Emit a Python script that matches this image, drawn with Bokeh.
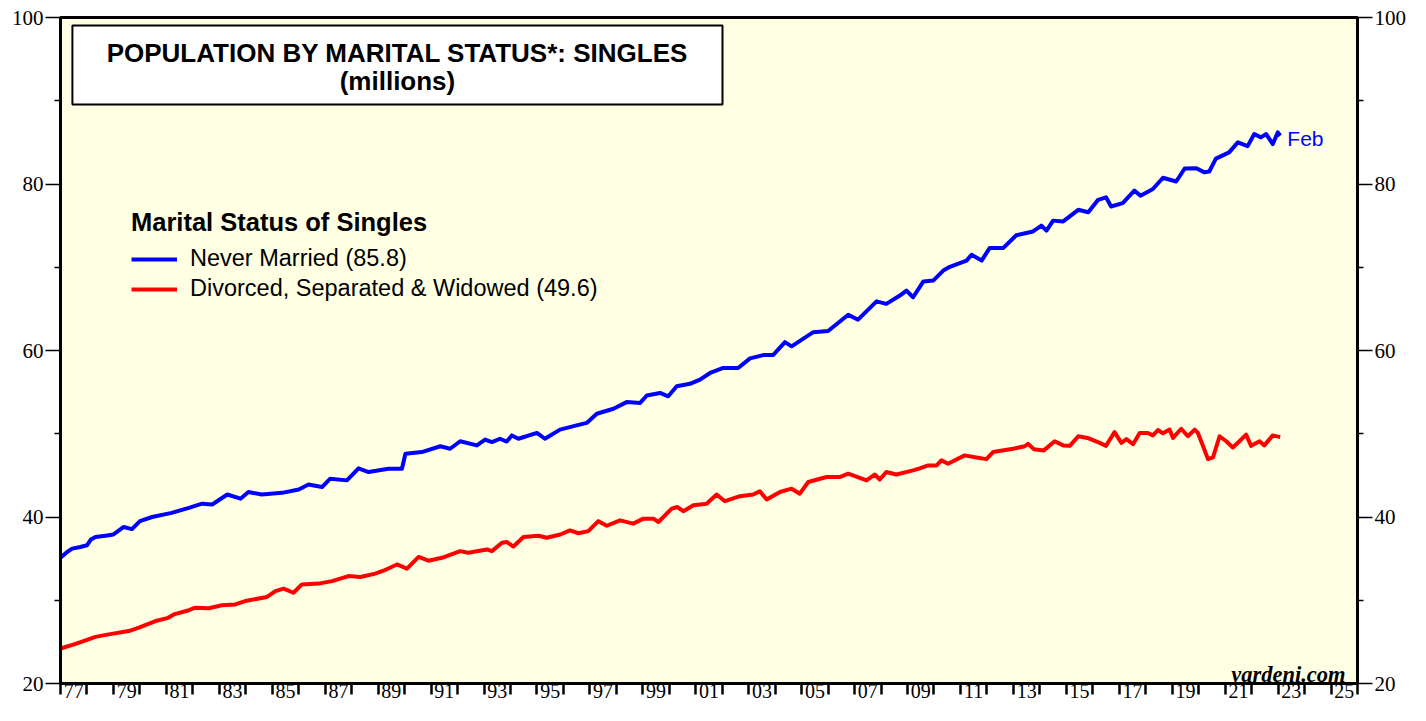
from bokeh.plotting import figure
from bokeh.models import (FixedTicker, LinearAxis, Label, BoxAnnotation, Legend, LegendItem, Range1d)
from bokeh.embed import file_html
from bokeh.resources import INLINE

# ---------------- data ----------------
never_married_t = [1977.00, 1977.25, 1977.44, 1977.75, 1978.00, 1978.15, 1978.32, 1978.70, 1979.00, 1979.39,
                   1979.70, 1980.00, 1980.46, 1981.20, 1981.85, 1982.35, 1982.73, 1983.30, 1983.80, 1984.10,
                   1984.60, 1985.37, 1986.00, 1986.37, 1986.88, 1987.19, 1987.82, 1988.26, 1988.64, 1989.39,
                   1989.90, 1990.03, 1990.65, 1991.35, 1991.72, 1992.10, 1992.73, 1993.04, 1993.30, 1993.60,
                   1993.86, 1994.05, 1994.30, 1995.00, 1995.30, 1995.87, 1996.50, 1996.88, 1997.26, 1997.89,
                   1998.39, 1998.90, 1999.15, 1999.65, 1999.96, 2000.28, 2000.78, 2001.16, 2001.54, 2002.04,
                   2002.60, 2003.05, 2003.55, 2003.92, 2004.37, 2004.62, 2005.44, 2006.00, 2006.76, 2007.13,
                   2007.83, 2008.20, 2008.71, 2008.96, 2009.21, 2009.60, 2009.97, 2010.35, 2010.60, 2011.23,
                   2011.42, 2011.80, 2012.10, 2012.61, 2013.11, 2013.74, 2014.06, 2014.25, 2014.50, 2014.88,
                   2015.13, 2015.45, 2015.83, 2016.20, 2016.50, 2016.69, 2017.13, 2017.57, 2017.80, 2018.27,
                   2018.65, 2019.15, 2019.47, 2019.91, 2020.22, 2020.40, 2020.65, 2021.15, 2021.48, 2021.85,
                   2022.10, 2022.35, 2022.55, 2022.80, 2022.99, 2023.08]
never_married_v = [35.1, 35.8, 36.2, 36.4, 36.6, 37.3, 37.6, 37.76, 37.9, 38.8,
                   38.55, 39.5, 40.0, 40.5, 41.1, 41.6, 41.5, 42.7, 42.2, 43.0,
                   42.7, 42.9, 43.3, 43.9, 43.6, 44.6, 44.4, 45.85, 45.4, 45.8,
                   45.8, 47.6, 47.8, 48.5, 48.2, 49.1, 48.6, 49.3, 49.0, 49.4,
                   49.06, 49.8, 49.4, 50.1, 49.4, 50.5, 51.0, 51.3, 52.4, 53.0,
                   53.8, 53.7, 54.6, 54.9, 54.5, 55.7, 56.0, 56.5, 57.3, 57.9,
                   57.9, 59.05, 59.45, 59.45, 61.0, 60.5, 62.2, 62.35, 64.3, 63.7,
                   65.9, 65.6, 66.6, 67.2, 66.4, 68.3, 68.4, 69.6, 70.05, 70.8,
                   71.5, 70.8, 72.3, 72.3, 73.85, 74.3, 75.0, 74.4, 75.6, 75.5,
                   76.1, 76.9, 76.6, 78.1, 78.4, 77.3, 77.7, 79.2, 78.6, 79.4,
                   80.75, 80.3, 81.86, 81.9, 81.4, 81.5, 83.05, 83.8, 85.0, 84.55,
                   86.0, 85.6, 86.0, 84.8, 86.2, 85.8]

divorced_t = [1977.00, 1977.57, 1978.32, 1978.82, 1979.58, 1979.96, 1980.59, 1981.03, 1981.28, 1981.85,
              1982.10, 1982.60, 1983.10, 1983.60, 1983.98, 1984.80, 1985.12, 1985.43, 1985.80, 1986.12,
              1986.75, 1987.26, 1987.88, 1988.33, 1988.89, 1989.20, 1989.71, 1990.09, 1990.53, 1990.90,
              1991.41, 1992.10, 1992.41, 1993.11, 1993.30, 1993.68, 1993.86, 1994.11, 1994.49, 1995.06,
              1995.37, 1995.88, 1996.25, 1996.57, 1996.94, 1997.32, 1997.64, 1998.14, 1998.64, 1999.02,
              1999.40, 1999.59, 2000.09, 2000.30, 2000.53, 2000.91, 2001.41, 2001.79, 2002.10, 2002.67,
              2003.17, 2003.42, 2003.68, 2004.18, 2004.62, 2004.93, 2005.25, 2005.94, 2006.44, 2006.76,
              2007.45, 2007.76, 2007.95, 2008.20, 2008.58, 2009.21, 2009.46, 2009.78, 2010.10, 2010.28,
              2010.53, 2011.16, 2011.60, 2011.98, 2012.23, 2012.99, 2013.43, 2013.55, 2013.77, 2014.15,
              2014.56, 2014.88, 2015.13, 2015.45, 2015.80, 2016.26, 2016.50, 2016.82, 2017.08, 2017.27,
              2017.52, 2017.77, 2018.08, 2018.27, 2018.46, 2018.65, 2018.90, 2019.03, 2019.34, 2019.59,
              2019.85, 2019.97, 2020.16, 2020.35, 2020.54, 2020.79, 2021.04, 2021.29, 2021.54, 2021.79,
              2021.98, 2022.30, 2022.48, 2022.80, 2023.08]
divorced_v = [24.2, 24.75, 25.6, 25.9, 26.3, 26.7, 27.5, 27.85, 28.3, 28.8,
              29.1, 29.04, 29.4, 29.5, 29.9, 30.4, 31.1, 31.4, 30.9, 31.9,
              32.0, 32.3, 32.9, 32.8, 33.2, 33.55, 34.3, 33.8, 35.2, 34.75,
              35.1, 35.9, 35.7, 36.1, 35.9, 36.9, 37.0, 36.45, 37.6, 37.75,
              37.5, 37.9, 38.4, 38.05, 38.3, 39.5, 38.95, 39.6, 39.2, 39.8,
              39.8, 39.4, 41.0, 41.2, 40.7, 41.4, 41.6, 42.7, 41.9, 42.5,
              42.7, 43.1, 42.1, 43.0, 43.4, 42.8, 44.2, 44.8, 44.8, 45.2,
              44.4, 45.1, 44.5, 45.4, 45.1, 45.6, 45.85, 46.2, 46.2, 46.8,
              46.4, 47.4, 47.15, 46.95, 47.8, 48.2, 48.5, 48.8, 48.15, 48.0,
              49.1, 48.6, 48.55, 49.7, 49.5, 48.9, 48.55, 50.2, 48.9, 49.35,
              48.75, 50.1, 50.1, 49.8, 50.45, 50.05, 50.5, 49.5, 50.6, 49.7,
              50.5, 50.1, 48.55, 46.95, 47.15, 49.7, 49.1, 48.35, 49.1, 49.9,
              48.55, 49.1, 48.6, 49.8, 49.6]

series_labels = ["Never Married (85.8)", "Divorced, Separated & Widowed (49.6)"]
legend_title = "Marital Status of Singles"
title_lines = ["POPULATION BY MARITAL STATUS*: SINGLES", "(millions)"]
last_month_label = "Feb"
source_label = "yardeni.com"

y_major_ticks = [20, 40, 60, 80, 100]
y_minor_ticks = [30, 50, 70, 90]
x_year_ticks = list(range(1977, 2027))
x_label_positions = [1977.5, 1979.5, 1981.5, 1983.5, 1985.5, 1987.5, 1989.5, 1991.5, 1993.5, 1995.5,
                     1997.5, 1999.5, 2001.5, 2003.5, 2005.5, 2007.5, 2009.5, 2011.5, 2013.5, 2015.5,
                     2017.5, 2019.5, 2021.5, 2023.5, 2025.5]
x_tick_labels = ["77", "79", "81", "83", "85", "87", "89", "91", "93", "95",
                 "97", "99", "01", "03", "05", "07", "09", "11", "13", "15",
                 "17", "19", "21", "23", "25"]

# ---------------- figure ----------------
SANS = "Liberation Sans"
SERIF = "Liberation Serif"

p = figure(width=1410, height=705, output_backend="svg", toolbar_location=None,
           x_range=Range1d(1977, 2026), y_range=Range1d(20, 100),
           min_border_left=60, min_border_right=53, min_border_top=17, min_border_bottom=22,
           background_fill_color="#FFFFE3", border_fill_color="white",
           outline_line_color="black", outline_line_width=3)
p.xaxis.visible = False
p.yaxis.visible = False
p.grid.visible = False

r1 = p.line(never_married_t, never_married_v, line_color="#0000FF", line_width=4, line_join="round")
r2 = p.line(divorced_t, divorced_v, line_color="#FF0000", line_width=4, line_join="round")

def y_axis():
    ax = LinearAxis(ticker=FixedTicker(ticks=y_major_ticks, minor_ticks=y_minor_ticks))
    ax.axis_line_width = 3
    ax.axis_line_color = "black"
    ax.major_tick_out = 15
    ax.major_tick_in = 0
    ax.minor_tick_out = 6
    ax.minor_tick_in = 0
    ax.major_tick_line_width = 1.7
    ax.minor_tick_line_width = 1.7
    ax.major_label_text_font = SERIF
    ax.major_label_text_font_size = "21px"
    ax.major_label_text_color = "black"
    ax.major_label_standoff = 2
    return ax

p.add_layout(y_axis(), "left")
p.add_layout(y_axis(), "right")

xa = LinearAxis(ticker=FixedTicker(ticks=x_label_positions, minor_ticks=x_year_ticks))
xa.axis_line_width = 3
xa.major_tick_out = 0
xa.major_tick_in = 0
xa.minor_tick_out = 11
xa.minor_tick_in = 0
xa.minor_tick_line_width = 2.5
xa.minor_tick_line_color = "black"
xa.major_label_overrides = {pos: lab for pos, lab in zip(x_label_positions, x_tick_labels)}
xa.major_label_text_font = SERIF
xa.major_label_text_font_size = "20px"
xa.major_label_text_color = "black"
xa.major_label_standoff = -11
p.add_layout(xa, "below")

# title box
p.add_layout(BoxAnnotation(left=1977.45, right=2002.01, bottom=89.55, top=99.04,
                           fill_color="white", fill_alpha=1.0,
                           line_color="black", line_alpha=1.0, line_width=2, level="annotation"))
p.add_layout(Label(x=1989.73, y=95.74, text=title_lines[0], text_align="center", text_baseline="middle",
                   text_font=SANS, text_font_size="26px", text_font_style="bold", text_color="black"))
p.add_layout(Label(x=1989.73, y=92.43, text=title_lines[1], text_align="center", text_baseline="middle",
                   text_font=SANS, text_font_size="26px", text_font_style="bold", text_color="black"))

# last-month label
p.add_layout(Label(x=2023.35, y=85.47, text=last_month_label, text_align="left", text_baseline="middle",
                   text_font=SANS, text_font_size="21px", text_color="#0000FF"))

# source
p.add_layout(Label(x=2025.55, y=21.1, text=source_label, text_align="right", text_baseline="alphabetic",
                   text_font=SERIF, text_font_size="22.5px", text_font_style="bold italic", text_color="black"))

legend = Legend(items=[LegendItem(label=series_labels[0], renderers=[r1]),
                       LegendItem(label=series_labels[1], renderers=[r2])],
                title=legend_title, location=(71, 381),
                background_fill_alpha=0, border_line_alpha=0, padding=0, margin=0,
                glyph_width=46, glyph_height=20, label_standoff=13, spacing=3,
                title_standoff=8, label_text_font=SANS, label_text_font_size="23.5px",
                title_text_font=SANS, title_text_font_size="25.5px", title_text_font_style="bold",
                label_text_color="black", title_text_color="black")
p.add_layout(legend)

open("out.html", "w").write(file_html(p, INLINE))
